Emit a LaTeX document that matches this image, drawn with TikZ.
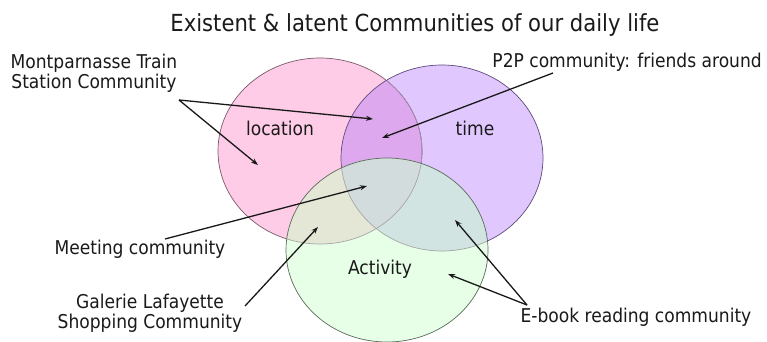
\documentclass[tikz,border=0pt]{standalone}
\usepackage{fontspec}
\setmainfont{DejaVu Sans Condensed}
\usetikzlibrary{arrows.meta}
\definecolor{pinkc}{HTML}{FFCCE8}
\definecolor{purpc}{HTML}{E0C8FF}
\definecolor{greenc}{HTML}{E6FFE6}
\definecolor{pinkpurp}{HTML}{DDA8EE}
\definecolor{pinkgreen}{HTML}{E4E6D6}
\definecolor{purpgreen}{HTML}{D2E4E2}
\definecolor{allc}{HTML}{D2DCDC}
\definecolor{pinkline}{HTML}{7A5A6A}
\definecolor{purpline}{HTML}{5E4A7A}
\definecolor{greenline}{HTML}{5A6A5A}
\definecolor{txt}{HTML}{1A1A1A}
\tikzset{
  lbl/.style={font=\fontsize{19}{20}\selectfont, text=txt, align=center, inner sep=0pt},
  setlbl/.style={font=\fontsize{19}{20}\selectfont, text=txt, inner sep=0pt},
  arr/.style={-{Stealth[length=7pt,width=5pt]}, line width=1.3pt, draw=black!90},
}
\def\Loc{(320,151) ellipse [x radius=102, y radius=93]}
\def\Tim{(442,158) ellipse [x radius=101, y radius=93]}
\def\Act{(387,250) ellipse [x radius=101, y radius=92]}
\begin{document}
\begin{tikzpicture}[x=1pt,y=-1pt]
\useasboundingbox (0,0) rectangle (767,342);
\fill[white] (0,0) rectangle (767,342);
% fills
\fill[pinkc] \Loc;
\fill[purpc] \Tim;
\begin{scope}\clip \Loc; \fill[pinkpurp] \Tim; \end{scope}
\draw[pinkline, line width=0.7pt] \Loc;
\begin{scope}\clip \Tim; \draw[pinkline!50!purpc, line width=0.7pt] \Loc; \end{scope}
\draw[purpline, line width=0.7pt] \Tim;
\fill[greenc] \Act;
\begin{scope}\clip \Act; \fill[pinkgreen] \Loc; \end{scope}
\begin{scope}\clip \Act; \fill[purpgreen] \Tim; \end{scope}
\begin{scope}\clip \Act; \clip \Loc; \fill[allc] \Tim; \end{scope}
\begin{scope}\clip \Act;
  \draw[black!35, line width=0.7pt] \Loc;
  \draw[black!35, line width=0.7pt] \Tim;
\end{scope}
\draw[greenline, line width=0.7pt] \Act;
% texts
\node[font=\fontsize{23.5}{26}\selectfont, text=txt, inner sep=0pt] (title) at (415,25) {Existent \& latent Communities of our daily life};
\node[lbl] (mont) at (94,73) {Montparnasse Train\\Station Community};
\node[lbl, anchor=east] (p2p) at (762,62) {P2P community: friends around};
\node[setlbl] (loc) at (280,128) {location};
\node[setlbl] (tim) at (475,128) {time};
\node[setlbl] (act) at (380,269) {Activity};
\node[lbl] (meet) at (140,249) {Meeting community};
\node[lbl] (gal) at (150,313) {Galerie Lafayette\\Shopping Community};
\node[lbl] (ebook) at (636,317) {E-book reading community};
% arrow ends
\coordinate (montS) at (179,100);
\coordinate (montA) at (373,119);
\coordinate (montB) at (258,165);
\coordinate (p2pS) at (553,73);
\coordinate (p2pE) at (382,138);
\coordinate (meetS) at (165,239);
\coordinate (meetE) at (367,186);
\coordinate (galS) at (245,306);
\coordinate (galE) at (318,227);
\coordinate (ebS) at (527,305);
\coordinate (ebA) at (455,220);
\coordinate (ebB) at (448,274);
\draw[arr] (montS) -- (montA);
\draw[arr] (montS) -- (montB);
\draw[arr] (p2pS) -- (p2pE);
\draw[arr] (meetS) -- (meetE);
\draw[arr] (galS) -- (galE);
\draw[arr] (ebS) -- (ebA);
\draw[arr] (ebS) -- (ebB);
\end{tikzpicture}
\end{document}
